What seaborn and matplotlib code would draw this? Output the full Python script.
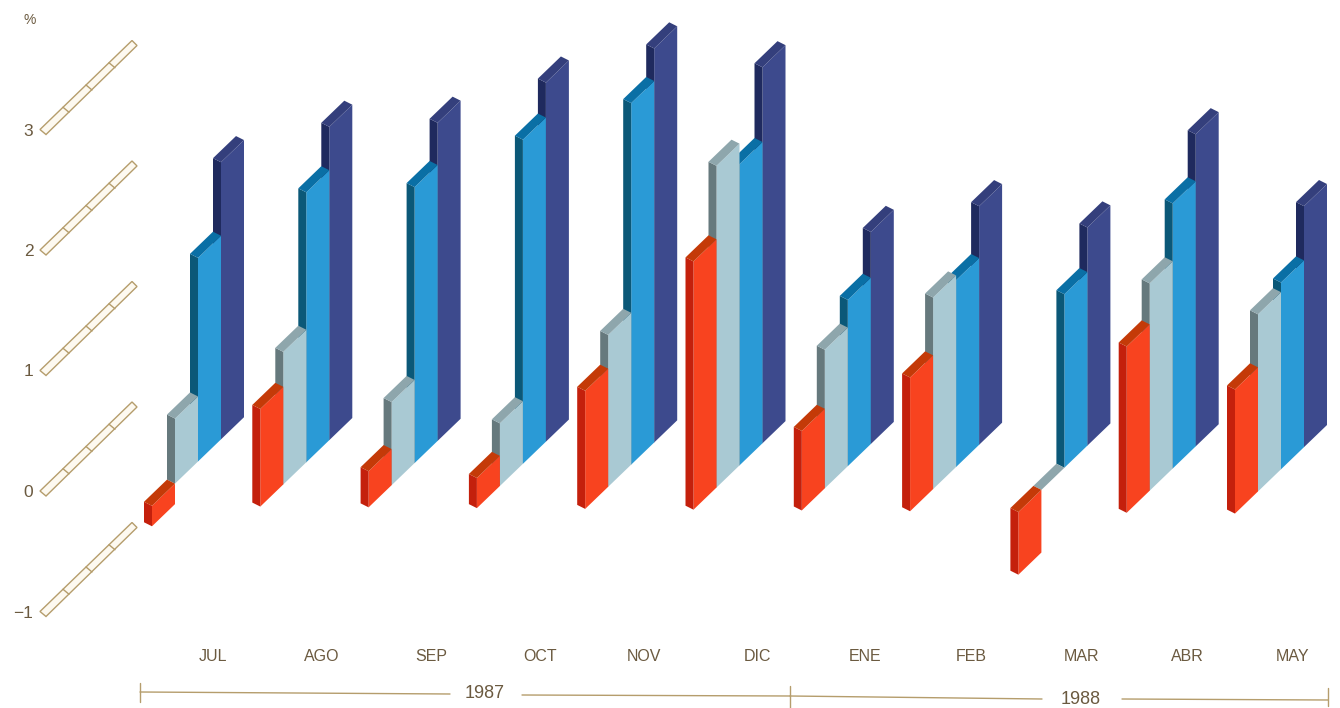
#!/usr/bin/env python3

import numpy as np
import pandas as pd
import seaborn as sns
import matplotlib.pyplot as plt
from matplotlib.transforms import Affine2D

months = ['JUL', 'AGO', 'SEP', 'OCT', 'NOV', 'DIC', 'ENE', 'FEB', 'MAR', 'ABR', 'MAY']
series = ['a', 'b', 'c', 'd']
red_vals = [-0.17, 0.81, 0.30, 0.25, 0.98, 2.06, 0.66, 1.11, -0.52, 1.38, 1.03]
light_vals = [0.54, 1.10, 0.69, 0.52, 1.26, 2.67, 1.15, 1.59, 0.00, 1.72, 1.47]
blue_vals = [1.69, 2.24, 2.29, 2.69, 3.00, 2.50, 1.38, 1.55, 1.44, 2.20, 1.55]
navy_vals = [2.30, 2.60, 2.64, 2.98, 3.27, 3.12, 1.76, 1.98, 1.81, 2.59, 2.00]
scale_ticks = [-1, 0, 1, 2, 3]
scale_labels = ['\u22121', '0', '1', '2', '3']
month_label_px = [213, 322, 431, 540, 644, 757, 865, 971, 1081, 1187, 1293]

face_cols = ['#f8431f', '#a9c9d3', '#2a9ad6', '#3d4a8d']
side_cols = ['#c4200c', '#66797d', '#0b5878', '#1f2a5e']
top_cols = ['#c43a08', '#8ea6ac', '#0a6fa5', '#343f7c']
tan = '#b59d6c'
ink = '#6b5a40'

W, H = 1340, 708
px_month = 108.3     # pixels between months
px_unit = 120.5      # pixels per 1 %
bar_w = 23 / px_month
k = 0.97 * px_month / px_unit   # rise of the base line inside a month
tilt = 0.0072 * px_month / px_unit   # the whole page sags to the right
dx, dy = -8 / px_month, 4 / px_unit  # depth of the prisms
scale_shift = 29.5 / px_unit   # the % scale sits lower than the bar base line


def px(x, y):
    return x / W, 1 - y / H


def sheared(x, y, xm):
    return y + k * (x - xm) - tilt * x


sns.set_style('white')
plt.rcParams['font.family'] = ['Liberation Sans', 'DejaVu Sans']

df = pd.DataFrame({'month': months * 4,
                   'series': np.repeat(series, len(months)),
                   'value': red_vals + light_vals + blue_vals + navy_vals})

fig = plt.figure(figsize=(W / 100, H / 100), dpi=100)
ax = fig.add_axes([0, 0, 1, 1])
sns.barplot(data=df, x='month', y='value', hue='series', order=months, hue_order=series,
            palette=face_cols, width=4 * bar_w, gap=0, saturation=1, errorbar=None,
            linewidth=0, legend=False, ax=ax)

# Turn the flat bars into prisms: shear the face, add side and top from the bar geometry
for idx, p in enumerate(ax.patches):
    j = idx // len(months)
    xl, w = p.get_x(), p.get_width()
    xm = round(xl + w / 2)
    v = p.get_height()
    top = max(v, 0)
    low = min(v, 0)
    p.set_transform(Affine2D(np.array([[1, 0, 0], [k - tilt, 1, -k * xm], [0, 0, 1]])) + ax.transData)
    p.set_zorder(10 - 2 * j)

    tl = sheared(xl, top, xm)
    tr = sheared(xl + w, top, xm)
    bl = sheared(xl, low, xm)
    ax.fill([xl, xl + dx, xl + dx, xl], [bl, bl + dy, tl + dy, tl],
            color=side_cols[j], lw=0, zorder=10 - 2 * j)
    ax.fill([xl, xl + dx, xl + w + dx, xl + w], [tl, tl + dy, tr + dy, tr],
            color=top_cols[j], lw=0, zorder=10 - 2 * j)

ax.set_xlim(-198 / px_month, (W - 198) / px_month)
ax.set_ylim((461.5 - H) / px_unit, 461.5 / px_unit)

ax.set_xticks([(x - 198) / px_month for x in month_label_px])
ax.set_xticklabels(months)
ax.set_yticks([t - scale_shift for t in scale_ticks])
ax.set_yticklabels(scale_labels)
ax.set_xlabel('')
ax.set_ylabel('')
ax.tick_params(axis='x', length=0, pad=-42.6, labelsize=11.5, labelcolor=ink)
ax.tick_params(axis='y', length=0, pad=-24, labelsize=12.5, labelcolor=ink)
sns.despine(ax=ax, left=True, bottom=True)

# Ribbons of the % scale
for t in scale_ticks:
    y0 = 491 - px_unit * t
    ribbon = [px(40, y0), px(46, y0 + 5), px(137, y0 - 84), px(132, y0 - 89)]
    ax.fill(*zip(*ribbon), transform=ax.transAxes, facecolor='#fdf9f0', edgecolor=tan, lw=1.0)
    for f in [0.25, 0.5, 0.75]:
        x_a, y_a = 40 + 92 * f, y0 - 89 * f
        ax.plot(*zip(px(x_a, y_a), px(x_a + 6, y_a + 5)), transform=ax.transAxes, color=tan, lw=1.0)

ax.text(*px(30, 20), '%', transform=ax.transAxes, fontsize=10, color=ink, ha='center', va='center')

# Year brackets under the months
for x0, x1, y0, y1 in [(140, 450, 692, 694), (522, 790, 695, 696), (790, 1042, 696, 699), (1122, 1328, 699, 700)]:
    ax.plot(*zip(px(x0, y0), px(x1, y1)), transform=ax.transAxes, color=tan, lw=1.0)
for x, y0, y1 in [(140, 683, 702), (790, 686, 708), (1328, 688, 706)]:
    ax.plot(*zip(px(x, y0), px(x, y1)), transform=ax.transAxes, color=tan, lw=1.0)
ax.text(*px(485, 693), '1987', transform=ax.transAxes, fontsize=13, color=ink, ha='center', va='center')
ax.text(*px(1081, 700), '1988', transform=ax.transAxes, fontsize=13, color=ink, ha='center', va='center')

fig.savefig('out.png', dpi=100, facecolor='white')
